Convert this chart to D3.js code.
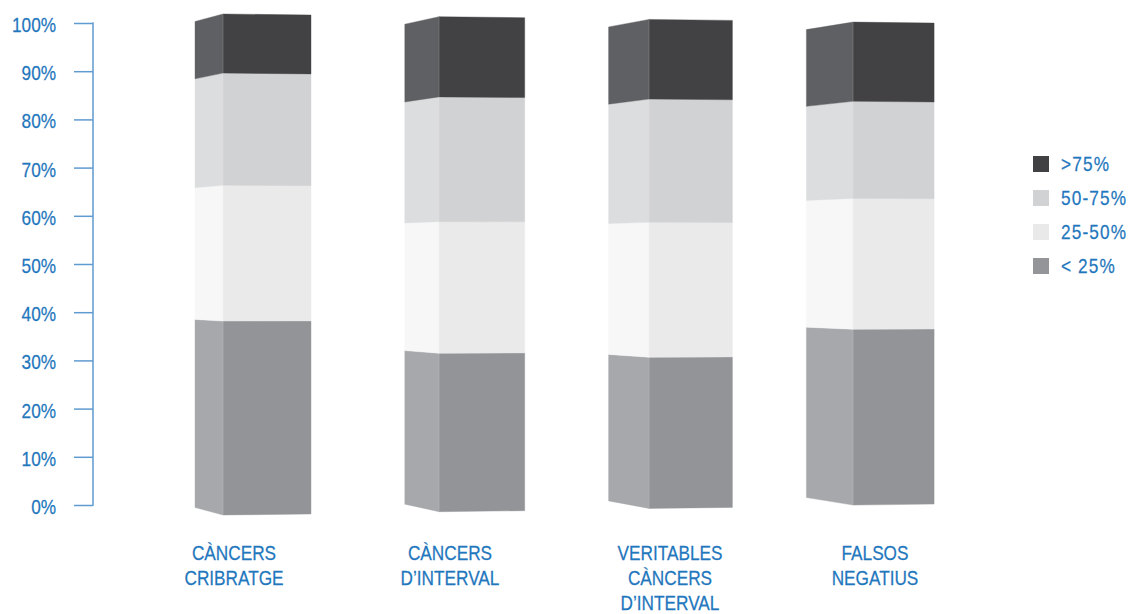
<!DOCTYPE html>
<html>
<head>
<meta charset="utf-8">
<script src="https://cdn.jsdelivr.net/npm/d3@7"></script>
<style>
  html, body { margin: 0; padding: 0; background: #fff; }
  svg { display: block; }
  text { font-family: "Liberation Sans", Arial, sans-serif; }
</style>
</head>
<body>
<svg id="chart" width="1129" height="614"></svg>
<script>
// ---- data ----
const categories = [
  ["CÀNCERS", "CRIBRATGE"],
  ["CÀNCERS", "D’INTERVAL"],
  ["VERITABLES", "CÀNCERS", "D’INTERVAL"],
  ["FALSOS", "NEGATIUS"]
];
const seriesNames = ["< 25%", "25-50%", "50-75%", ">75%"];
const below25    = [38.7, 32.0, 30.9, 36.4];
const from25to50 = [27.1, 26.6, 27.6, 27.1];
const from50to75 = [22.4, 25.2, 25.2, 20.1];
const above75    = [11.8, 16.2, 16.3, 16.4];
const yTicks = [0, 10, 20, 30, 40, 50, 60, 70, 80, 90, 100];

const series = [below25, from25to50, from50to75, above75];
const frontColors = ["#939498", "#eaeaea", "#d1d2d4", "#424144"];
const sideColors  = ["#a7a8ac", "#f7f7f7", "#dcdddf", "#5f6063"];
const legendColors = ["#939598", "#e9e9ea", "#d1d2d4", "#414042"];
const blue = "#1f77bd";
const NARROW = 0.82;

const svg = d3.select("#chart");

// narrow text helper (condensed look)
function narrowText(parent, x, y, str, opts = {}) {
  const t = parent.append("text")
    .attr("transform", `translate(${x},${y}) scale(${NARROW},1)`)
    .attr("x", 0).attr("y", 0)
    .attr("fill", blue)
    .attr("stroke", blue).attr("stroke-width", 0.25)
    .attr("font-size", opts.size || 21)
    .attr("text-anchor", opts.anchor || "start")
    .text(str);
  if (opts.spacing) t.attr("letter-spacing", opts.spacing);
  return t;
}

// ---- axis ----
const yAxis = d3.scaleLinear().domain([0, 100]).range([505, 23]);
const axisG = svg.append("g").attr("transform", "translate(93,0)");
axisG.call(d3.axisLeft(yAxis).tickValues(yTicks).tickSize(19).tickPadding(18)
  .tickFormat(d => d + "%"));
axisG.select(".domain").attr("d", `M-0.5,${yAxis(100)}H0V${yAxis(0)}H-0.5`)
  .attr("stroke", "#5f9bd0").attr("stroke-width", 1.5).attr("fill", "none");
axisG.selectAll(".tick line").attr("stroke", "#5f9bd0").attr("stroke-width", 1.5);
axisG.selectAll(".tick text")
  .attr("fill", blue).attr("font-size", 21)
  .attr("stroke", blue).attr("stroke-width", 0.25)
  .attr("x", -37 / NARROW)
  .attr("dy", "0.4em")
  .attr("transform", `scale(${NARROW},1)`)
  .style("font-family", '"Liberation Sans", Arial, sans-serif');

// ---- bars (pseudo-3D with slight perspective) ----
const idx = d3.range(categories.length);
const frontLeft  = i => 223 + 216 * i - 3 * i * (i - 1);
const frontWidth = i => 88 - 2.3 * i;
const sideDepth  = i => 28 + 6.2 * i;
const barTop     = i => 14 + 2.7 * i;
const barBottom  = i => 515 - 3.3 * i;

idx.forEach(i => {
  const y = d3.scaleLinear().domain([0, 100]).range([barBottom(i), barTop(i)]);
  const c = (barBottom(i) + barTop(i)) / 2;
  const half = (barBottom(i) - barTop(i)) / 2;
  const kL = 1 - 7.5 / half;
  const kR = 1 - 1 / half;
  const xl = frontLeft(i), xr = xl + frontWidth(i), xs = xl - sideDepth(i);
  const yS = v => c + (y(v) - c) * kL;
  const yR = v => c + (y(v) - c) * kR;
  const g = svg.append("g");
  let acc = 0;
  series.forEach((s, k) => {
    const v0 = acc, v1 = acc + s[i];
    acc = v1;
    g.append("path")
      .attr("d", `M${xs},${yS(v0)}L${xl},${y(v0)}L${xl},${y(v1)}L${xs},${yS(v1)}Z`)
      .attr("fill", sideColors[k]).attr("stroke", sideColors[k]).attr("stroke-width", 0.4);
    g.append("path")
      .attr("d", `M${xl},${y(v0)}L${xr},${yR(v0)}L${xr},${yR(v1)}L${xl},${y(v1)}Z`)
      .attr("fill", frontColors[k]).attr("stroke", frontColors[k]).attr("stroke-width", 0.4);
  });
  g.append("line").attr("x1", xl).attr("x2", xl).attr("y1", y(100)).attr("y2", y(0))
    .attr("stroke", "#ffffff").attr("stroke-opacity", 0.25).attr("stroke-width", 0.8);
});

// ---- category labels ----
const labelCentres = [234, 450, 670, 875];
idx.forEach(i => {
  categories[i].forEach((line, j) => {
    narrowText(svg, labelCentres[i], 560 + j * 24.8, line, { anchor: "middle", size: 21 });
  });
});

// ---- legend ----
const legendOrder = [3, 2, 1, 0];
const legY = d3.scalePoint().domain(legendOrder).range([156, 258]);
legendOrder.forEach(k => {
  svg.append("rect").attr("x", 1033).attr("y", legY(k)).attr("width", 16).attr("height", 16)
    .attr("fill", legendColors[k]);
  narrowText(svg, 1061, legY(k) + 14.5, seriesNames[k], { size: 21, spacing: "1.4px" });
});
</script>
</body>
</html>
